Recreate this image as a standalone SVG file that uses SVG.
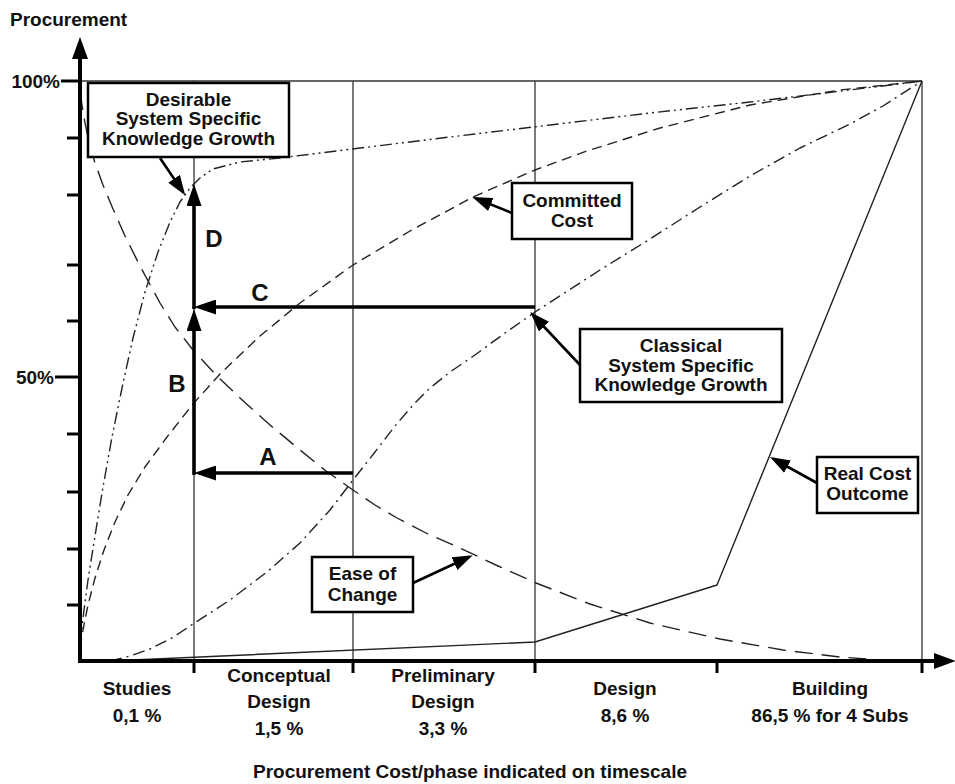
<svg xmlns="http://www.w3.org/2000/svg" width="955" height="784" viewBox="0 0 955 784">
  <style>
    text { font-family: "Liberation Sans", Arial, sans-serif; font-weight: bold; font-size: 19px; fill: #111; }
    .mid { text-anchor: middle; }
    .end { text-anchor: end; }
    .big { font-size: 24px; }
    .axis { stroke: #000; stroke-width: 4; fill: none; }
    .tick { stroke: #000; stroke-width: 3; fill: none; }
    .grid { stroke: #333; stroke-width: 1.3; fill: none; }
    .curve { stroke: #222; stroke-width: 1.4; fill: none; stroke-linejoin: round; }
    .ease { stroke-dasharray: 18 9; }
    .committed { stroke-dasharray: 10 6; }
    .classical { stroke-dasharray: 12 5 2 5; }
    .desirable { stroke-dasharray: 12 4 2 4 2 4; }
    .box { fill: #fff; stroke: #000; stroke-width: 2.5; }
    .pointer { stroke: #000; stroke-width: 2.6; fill: none; marker-end: url(#head); }
    .step { stroke: #000; stroke-width: 3.6; fill: none; marker-end: url(#headBig); }
  </style>
  <defs>
    <marker id="head" viewBox="0 0 20 14" refX="16" refY="7" markerWidth="20" markerHeight="14" markerUnits="userSpaceOnUse" orient="auto">
      <path d="M0,0 L20,7 L0,14 z" fill="#000"/>
    </marker>
    <marker id="headBig" viewBox="0 0 22 15" refX="16" refY="7.5" markerWidth="22" markerHeight="15" markerUnits="userSpaceOnUse" orient="auto">
      <path d="M0,0 L22,7.5 L0,15 z" fill="#000"/>
    </marker>
  </defs>

  <rect width="955" height="784" fill="#fff"/>

  <!-- phase grid -->
  <g id="grid">
    <line class="grid" x1="80" y1="81" x2="922" y2="81"/>
    <line class="grid" x1="194" y1="81" x2="194" y2="661"/>
    <line class="grid" x1="353" y1="81" x2="353" y2="661"/>
    <line class="grid" x1="535" y1="81" x2="535" y2="661"/>
    <line class="grid" x1="922" y1="81" x2="922" y2="661"/>
  </g>

  <!-- curves -->
  <g id="curves">
    <polyline id="ease-of-change-curve" class="curve ease" points="80,92 84,118 89,142 95,163 103,185 113,209 125,236 140,266 160,303 175,327 193,350 215,374 240,398 270,425 300,450 326,471 353,490 375,505 397,518 428,534 460,548 498,566 536,583 590,604 650,623 720,639 783,650 840,657 893,661"/>
    <polyline id="committed-cost-curve" class="curve committed" points="80,648 83,630 88,605 95,578 104,550 115,522 128,495 145,467 167,437 193,404 220,374 260,336 300,303 353,265 410,231 473,197 535,170 587,151 660,128 750,105 840,90 922,81"/>
    <polyline id="classical-curve" class="curve classical" points="110,661 130,656 150,649 172,638 193,624 230,600 267,572 300,543 330,510 353,480 375,452 395,426 413,405 430,388 450,372 475,355 505,333 535,312 600,270 650,239 700,207 750,176 800,148 850,124 883,106 922,81"/>
    <polyline id="desirable-curve" class="curve desirable" points="80,645 84,610 88,580 95,536 103,487 112,437 122,388 133,338 145,292 158,252 170,222 180,202 190,188 200,178 213,169 240,162 280,158 320,153 450,137 550,125 650,113 750,102 850,90 922,81"/>
    <polyline id="real-cost-curve" class="curve" points="110,661 535,642 717,585 922,81"/>
  </g>

  <!-- axes -->
  <g id="axes">
    <line class="axis" x1="80" y1="56" x2="80" y2="663"/>
    <polygon points="80,37 72,59 88,59" fill="#000"/>
    <line class="axis" x1="78" y1="661" x2="940" y2="661"/>
    <polygon points="956,661 934,653 934,669" fill="#000"/>
    <line class="tick" x1="61" y1="81" x2="80" y2="81"/>
    <line class="tick" x1="67" y1="138" x2="80" y2="138"/>
    <line class="tick" x1="67" y1="195" x2="80" y2="195"/>
    <line class="tick" x1="67" y1="265" x2="80" y2="265"/>
    <line class="tick" x1="67" y1="321" x2="80" y2="321"/>
    <line class="tick" x1="55" y1="377" x2="80" y2="377"/>
    <line class="tick" x1="67" y1="434" x2="80" y2="434"/>
    <line class="tick" x1="67" y1="492" x2="80" y2="492"/>
    <line class="tick" x1="67" y1="549" x2="80" y2="549"/>
    <line class="tick" x1="67" y1="605" x2="80" y2="605"/>
    <line class="tick" x1="194" y1="661" x2="194" y2="673"/>
    <line class="tick" x1="353" y1="661" x2="353" y2="673"/>
    <line class="tick" x1="535" y1="661" x2="535" y2="673"/>
    <line class="tick" x1="717" y1="661" x2="717" y2="673"/>
    <line class="tick" x1="922" y1="661" x2="922" y2="673"/>
    <text x="10" y="26">Procurement</text>
    <text class="end" x="60" y="88">100%</text>
    <text class="end" x="54" y="384">50%</text>
  </g>

  <!-- knowledge steps A to D -->
  <g id="steps">
    <line class="step" x1="353" y1="473" x2="200" y2="473"/>
    <line class="step" x1="194" y1="475" x2="194" y2="315"/>
    <line class="step" x1="535" y1="307" x2="200" y2="307"/>
    <line class="step" x1="194" y1="309" x2="194" y2="190"/>
    <text class="mid big" x="268" y="465">A</text>
    <text class="mid big" x="177" y="392">B</text>
    <text class="mid big" x="260" y="301">C</text>
    <text class="mid big" x="214" y="247">D</text>
  </g>

  <!-- label pointers -->
  <g id="connectors">
    <line class="pointer" x1="160" y1="158" x2="183" y2="192"/>
    <line class="pointer" x1="512" y1="213" x2="476" y2="198.5"/>
    <line class="pointer" x1="580" y1="365" x2="533" y2="315"/>
    <line class="pointer" x1="817" y1="483" x2="773.5" y2="459"/>
    <line class="pointer" x1="413" y1="583" x2="469" y2="557"/>
  </g>

  <g id="desirable-label">
    <rect class="box" x="88" y="83" width="201" height="74"/>
    <text class="mid" x="188.5" y="106">Desirable</text>
    <text class="mid" x="188.5" y="125">System Specific</text>
    <text class="mid" x="188.5" y="145">Knowledge Growth</text>
  </g>

  <g id="committed-label">
    <rect class="box" x="512" y="183" width="120" height="56"/>
    <text class="mid" x="572" y="207">Committed</text>
    <text class="mid" x="572" y="227">Cost</text>
  </g>

  <g id="classical-label">
    <rect class="box" x="580" y="329" width="202" height="73"/>
    <text class="mid" x="681" y="352">Classical</text>
    <text class="mid" x="681" y="372">System Specific</text>
    <text class="mid" x="681" y="391">Knowledge Growth</text>
  </g>

  <g id="real-cost-label">
    <rect class="box" x="817" y="457" width="101" height="56"/>
    <text class="mid" x="867.5" y="480">Real Cost</text>
    <text class="mid" x="867.5" y="500">Outcome</text>
  </g>

  <g id="ease-label">
    <rect class="box" x="312" y="557" width="101" height="55"/>
    <text class="mid" x="362.5" y="580">Ease of</text>
    <text class="mid" x="362.5" y="601">Change</text>
  </g>

  <!-- phase captions -->
  <g id="phases">
    <text class="mid" x="137" y="695">Studies</text>
    <text class="mid" x="137" y="722">0,1 %</text>
    <text class="mid" x="279" y="682">Conceptual</text>
    <text class="mid" x="279" y="708">Design</text>
    <text class="mid" x="279" y="735">1,5 %</text>
    <text class="mid" x="443" y="682">Preliminary</text>
    <text class="mid" x="443" y="708">Design</text>
    <text class="mid" x="443" y="735">3,3 %</text>
    <text class="mid" x="625" y="695">Design</text>
    <text class="mid" x="625" y="722">8,6 %</text>
    <text class="mid" x="830" y="695">Building</text>
    <text class="mid" x="830" y="722">86,5 % for 4 Subs</text>
    <text class="mid" x="470" y="778">Procurement Cost/phase indicated on timescale</text>
  </g>
</svg>
